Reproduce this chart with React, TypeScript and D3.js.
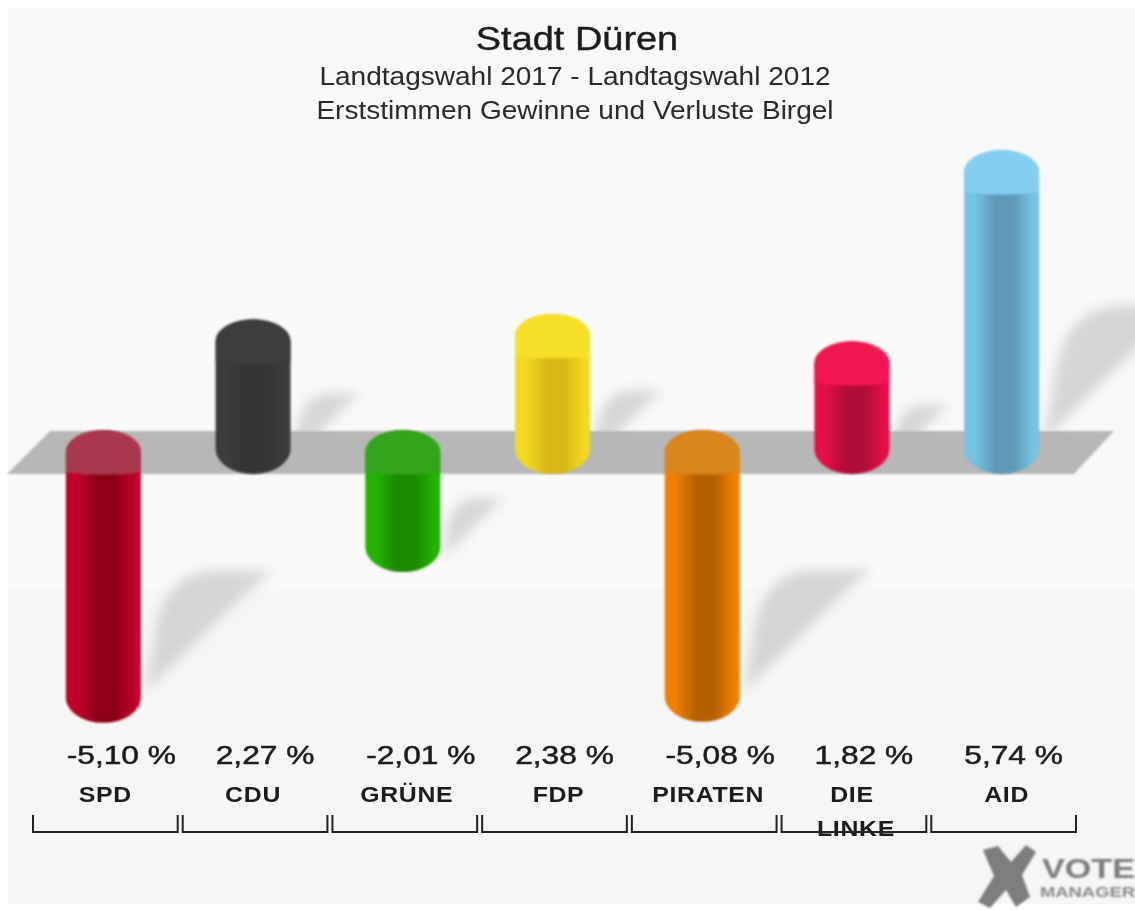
import React from "react";
import * as d3 from "d3";

const parties = ["SPD", "CDU", "GRÜNE", "FDP", "PIRATEN", "DIE LINKE", "AID"];
const changes = [-5.1, 2.27, -2.01, 2.38, -5.08, 1.82, 5.74];
const valueLabels = ["-5,10 %", "2,27 %", "-2,01 %", "2,38 %", "-5,08 %", "1,82 %", "5,74 %"];
const capColors = ["#a8384e", "#3d3d3f", "#35a31e", "#f6e028", "#d9861c", "#f0124f", "#84cff0"];
const edgeColors = ["#c2002a", "#3c3c3e", "#22b400", "#f2da20", "#f08000", "#e60e48", "#74c4e2"];
const coreColors = ["#8c0018", "#343436", "#1a8a00", "#d8b818", "#b46000", "#b01038", "#6098b8"];
const titleLines = ["Landtagswahl 2017 - Landtagswahl 2012", "Erststimmen Gewinne und Verluste Birgel"];

const W = 1135, H = 910;
const yTop = 430, yBottom = 474, ryCap = 22, ryEnd = 25, halfW = 37.5;
const x = d3.scaleBand<string>().domain(parties).range([29, 1077]).paddingInner(0);
const extent = d3.scaleLinear().domain([0, 5.74]).range([0, 280]);
const cx = (p: string) => (x(p) as number) + x.bandwidth() / 2 - 0.5;
const labelDx = [2, 0, 4, 6, 6, 0, 5];
const valueDx = [18, 12, 18, 12, 18, 12, 12];

function barPath(c: number, top: number, bottom: number) {
  const l = c - halfW, r = c + halfW;
  return `M${l},${top + ryCap} A${halfW},${ryCap} 0 0 1 ${r},${top + ryCap} L${r},${bottom - ryEnd} A${halfW},${ryEnd} 0 0 1 ${l},${bottom - ryEnd} Z`;
}
function capPath(c: number, top: number) {
  const l = c - halfW, r = c + halfW;
  return `M${l},${top + ryCap} A${halfW},${ryCap} 0 0 1 ${r},${top + ryCap} L${r},${top + 42} Q${c},${top + 47} ${l},${top + 42} Z`;
}
function shadowPath(c: number, bottom: number, h: number) {
  const r = c + halfW, s = 0.52 * h, t = bottom - s;
  return `M${r + 4},${bottom - 0.2 * s} L${r + 0.68 * s},${t + 0.16 * s} Q${r + 0.78 * s},${t + 0.08 * s} ${r + 0.86 * s},${t} L${r + 0.45 * s},${t} Q${r + 0.12 * s},${t + 0.03 * s} ${r + 0.08 * s},${t + 0.5 * s} Z`;
}

export default function App() {
  return (
    <svg width={W} height={H} style={{ position: "absolute", left: 0, top: 0, fontFamily: "'Liberation Sans', Arial, sans-serif" }}>
      <defs>
        <filter id="soft"><feGaussianBlur stdDeviation="1" /></filter>
        <filter id="softText"><feGaussianBlur stdDeviation="0.45" /></filter>
        <filter id="blurS" x="-30%" y="-30%" width="160%" height="160%"><feGaussianBlur stdDeviation="6" /></filter>
        {parties.map((p, i) => (
          <linearGradient key={p} id={`g${i}`} x1="0" x2="1" y1="0" y2="0">
            <stop offset="0" stopColor={edgeColors[i]} />
            <stop offset="0.14" stopColor={edgeColors[i]} />
            <stop offset="0.42" stopColor={coreColors[i]} />
            <stop offset="0.66" stopColor={coreColors[i]} />
            <stop offset="0.92" stopColor={edgeColors[i]} />
            <stop offset="1" stopColor={edgeColors[i]} />
          </linearGradient>
        ))}
      </defs>
      <rect width={W} height={H} fill="#ffffff" />
      <rect x={8} y={8} width={W - 8} height={H - 14} fill="#f9f9f9" />
      <rect x={8} y={590} width={W - 8} height={H - 596} fill="#f6f6f6" />

      <g filter="url(#blurS)" fill="#c8c8c8" opacity={0.7}>
        {parties.map((p, i) => {
          const v = changes[i];
          const e = extent(Math.abs(v));
          const bottom = v < 0 ? yBottom + e : yBottom;
          const h = bottom - (v < 0 ? yTop : yTop - e);
          return <path key={p} d={shadowPath(cx(p), bottom, h)} />;
        })}
      </g>

      <polygon points="7,474 50,431 1114,431 1074,474" fill="#b7b7b7" filter="url(#soft)" />

      <g filter="url(#soft)">
        {parties.map((p, i) => {
          const v = changes[i];
          const e = extent(Math.abs(v));
          const top = v < 0 ? yTop : yTop - e;
          const bottom = v < 0 ? yBottom + e : yBottom;
          return (
            <g key={p}>
              <path d={barPath(cx(p), top, bottom)} fill={`url(#g${i})`} />
              <path d={capPath(cx(p), top)} fill={capColors[i]} />
            </g>
          );
        })}
      </g>

      <g filter="url(#softText)" textAnchor="middle" fill="#1c1c1c">
        <text transform="translate(577,50) scale(1.15,1)" fontSize={33} stroke="#1c1c1c" strokeWidth={0.4}>Stadt Düren</text>
        {titleLines.map((t, i) => (
          <text key={t} transform={`translate(575,${85 + i * 34}) scale(1.122,1)`} fontSize={25} fill="#2a2a2a">{t}</text>
        ))}
        {parties.map((p, i) => (
          <text key={p} transform={`translate(${cx(p) + valueDx[i]},764) scale(1.22,1)`} fontSize={26} stroke="#1c1c1c" strokeWidth={0.5}>{valueLabels[i]}</text>
        ))}
        {parties.map((p, i) => {
          const lines = p.split(" ");
          return lines.map((ln, k) => (
            <text key={ln} transform={`translate(${cx(p) + labelDx[i] + k * 4},${802 + k * 34}) scale(1.13,1)`} fontSize={22} fontWeight={700} letterSpacing={0.6}>{ln}</text>
          ));
        })}
      </g>

      <g fill="none" stroke="#222" strokeWidth={2} filter="url(#softText)">
        {parties.map((p) => {
          const x0 = (x(p) as number) + 4, x1 = (x(p) as number) + x.bandwidth() - 1;
          return <path key={p} d={`M${x0},815 V832 H${x1} V815`} />;
        })}
      </g>

      <g filter="url(#soft)">
        <path d="M983,850 L998,846 L1011,862 L1026,845 L1036,852 L1022,875 L1030,897 L1016,907 L1006,890 L990,908 L978,902 L994,876 Z" fill="#7d7d7d" />
        <text x={1042} y={878} fontSize={27} fontWeight={700} fill="#7d7d7d" textLength={93} lengthAdjust="spacingAndGlyphs">VOTE</text>
        <text x={1040} y={897} fontSize={14} fontWeight={700} fill="#8a8a8a" textLength={95} lengthAdjust="spacingAndGlyphs">MANAGER</text>
      </g>
    </svg>
  );
}
